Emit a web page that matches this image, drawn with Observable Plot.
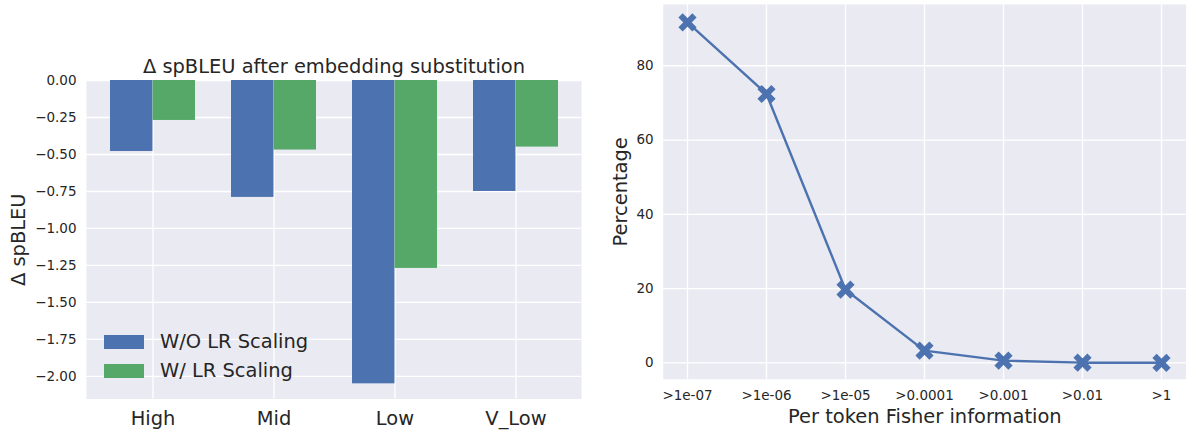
<!DOCTYPE html>
<html>
<head>
<meta charset="utf-8">
<script src="https://cdn.jsdelivr.net/npm/d3@7"></script>
<script src="https://cdn.jsdelivr.net/npm/@observablehq/plot@0.6"></script>
<style>
  html, body { margin: 0; padding: 0; background: #ffffff; }
  #root { position: relative; width: 1186px; height: 430px; overflow: hidden; font-family: "DejaVu Sans", sans-serif; color: #262626; }
  .panel { position: absolute; top: 0; }
  .legend { position: absolute; left: 104px; top: 327.5px; }
  .legend .row { display: flex; align-items: center; height: 29px; }
  .legend .sw { width: 40px; height: 14px; margin-right: 16px; }
  .legend .lab { font-size: 19.44px; line-height: 20px; color: #262626; white-space: nowrap; }
</style>
</head>
<body>
<div id="root"></div>
<script>
// ---- data ----
const groups = ["High", "Mid", "Low", "V_Low"];
const woScaling = [-0.48, -0.79, -2.05, -0.75];
const wScaling = [-0.27, -0.47, -1.27, -0.45];
const seriesNames = ["W/O LR Scaling", "W/ LR Scaling"];
const seriesColors = ["#4c72b0", "#55a868"];
const deltaTicks = [0, -0.25, -0.5, -0.75, -1.0, -1.25, -1.5, -1.75, -2.0];

const fisherBins = [">1e-07", ">1e-06", ">1e-05", ">0.0001", ">0.001", ">0.01", ">1"];
const percentage = [91.7, 72.4, 19.7, 3.3, 0.6, 0.05, 0.02];
const pctTicks = [0, 20, 40, 60, 80];

const leftTitle = "Δ spBLEU after embedding substitution";
const leftYLabel = "Δ spBLEU";
const rightYLabel = "Percentage";
const rightXLabel = "Per token Fisher information";

const bg = "#eaeaf2";
const ink = "#262626";
const font = "DejaVu Sans";
const big = 19.44;
const small = 13.5;

const root = document.getElementById("root");

// ---- left panel ----
const barRows = groups.map((g, i) => ({group: g, wo: woScaling[i], w: wScaling[i]}));
const L = {width: 600, height: 430, ml: 86, mr: 19, mt: 80, mb: 31.5};
const padIn = 0.3, padOut = 0.185;
const step = (L.width - L.ml - L.mr) / (groups.length - padIn + 2 * padOut);
const half = step * (1 - padIn) / 2;

const left = Plot.plot({
  width: L.width, height: L.height,
  marginLeft: L.ml, marginRight: L.mr, marginTop: L.mt, marginBottom: L.mb,
  style: {fontFamily: font, color: ink, background: "transparent", overflow: "visible"},
  x: {type: "band", domain: groups, paddingInner: padIn, paddingOuter: padOut},
  y: {domain: [-2.1525, 0]},
  marks: [
    Plot.frame({fill: bg, stroke: "none"}),
    Plot.gridX({stroke: "#ffffff", strokeOpacity: 1, strokeWidth: 1.3}),
    Plot.gridY(deltaTicks, {stroke: "#ffffff", strokeOpacity: 1, strokeWidth: 1.3}),
    Plot.barY(barRows, {x: "group", y: "wo", fill: seriesColors[0], insetRight: half}),
    Plot.barY(barRows, {x: "group", y: "w", fill: seriesColors[1], insetLeft: half}),
    Plot.axisX({tickSize: 0, tickPadding: 12, fontSize: big, label: null}),
    Plot.axisY(deltaTicks, {tickSize: 0, tickPadding: 10, fontSize: small, label: null, tickFormat: d3.format(".2f")}),
    Plot.text([leftTitle], {text: d => d, frameAnchor: "top", dy: -7.7, lineAnchor: "bottom", fontSize: big, fill: ink}),
    Plot.text([leftYLabel], {text: d => d, frameAnchor: "left", dx: -62, rotate: -90, lineAnchor: "bottom", textAnchor: "middle", fontSize: big, fill: ink})
  ]
});
left.classList.add("panel");
left.style.left = "0px";
root.appendChild(left);

// legend
const legend = document.createElement("div");
legend.className = "legend";
seriesNames.forEach((name, i) => {
  const row = document.createElement("div");
  row.className = "row";
  const sw = document.createElement("div");
  sw.className = "sw";
  sw.style.background = seriesColors[i];
  const lab = document.createElement("span");
  lab.className = "lab";
  lab.textContent = name;
  row.appendChild(sw);
  row.appendChild(lab);
  legend.appendChild(row);
});
root.appendChild(legend);

// ---- right panel ----
const lineRows = fisherBins.map((b, i) => ({bin: b, pct: percentage[i]}));
const right = Plot.plot({
  width: 586, height: 430,
  marginLeft: 62.7, marginRight: 0, marginTop: 4, marginBottom: 51.3,
  style: {fontFamily: font, color: ink, background: "transparent", overflow: "visible"},
  x: {type: "point", domain: fisherBins, padding: 0.3},
  y: {domain: [-4.4, 96.5]},
  marks: [
    Plot.frame({fill: bg, stroke: "none"}),
    Plot.gridX({stroke: "#ffffff", strokeOpacity: 1, strokeWidth: 1.3}),
    Plot.gridY(pctTicks, {stroke: "#ffffff", strokeOpacity: 1, strokeWidth: 1.3}),
    Plot.line(lineRows, {x: "bin", y: "pct", stroke: seriesColors[0], strokeWidth: 2.4}),
    Plot.dot(lineRows, {x: "bin", y: "pct", symbol: "times", r: 6.4, stroke: seriesColors[0], strokeWidth: 6, strokeLinecap: "butt"}),
    Plot.axisX({tickSize: 0, tickPadding: 11.2, fontSize: small, label: null}),
    Plot.axisY(pctTicks, {tickSize: 0, tickPadding: 9.5, fontSize: small, label: null}),
    Plot.text([rightXLabel], {text: d => d, frameAnchor: "bottom", dy: 44, lineAnchor: "bottom", fontSize: big, fill: ink}),
    Plot.text([rightYLabel], {text: d => d, frameAnchor: "left", dx: -36, rotate: -90, lineAnchor: "bottom", textAnchor: "middle", fontSize: big, fill: ink})
  ]
});
right.classList.add("panel");
right.style.left = "600px";
root.appendChild(right);
</script>
</body>
</html>
